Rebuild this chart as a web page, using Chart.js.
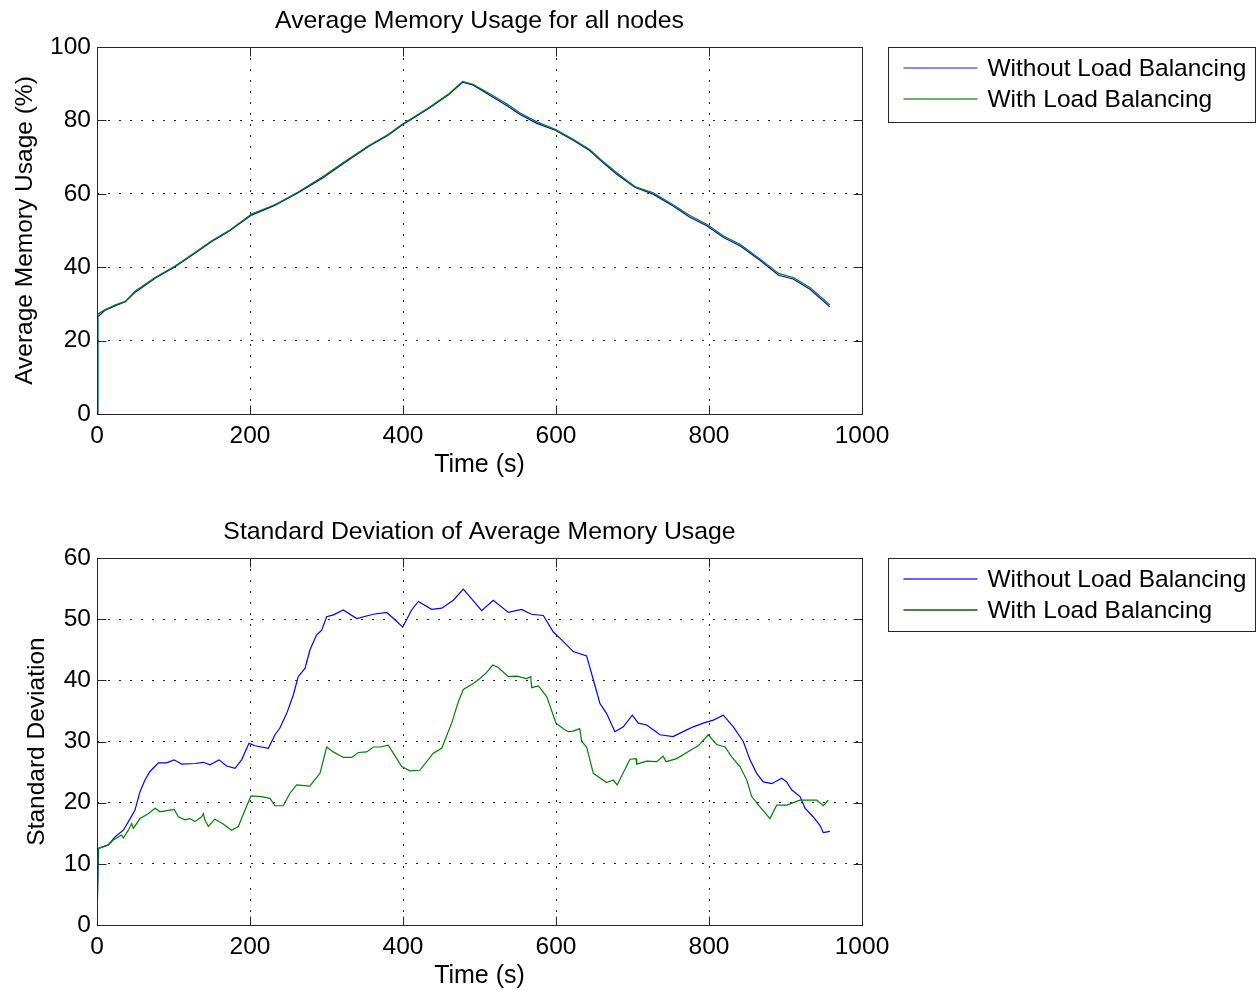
<!DOCTYPE html>
<html><head><meta charset="utf-8">
<script src="https://cdn.jsdelivr.net/npm/chart.js@4.4.0/dist/chart.umd.min.js"></script>
<style>
html,body{margin:0;padding:0;background:#fff;}
#wrap{position:relative;width:1257px;height:991px;overflow:hidden;}
.c{position:absolute;left:0;width:1257px;height:480px;}
</style></head><body>
<div id="wrap">
<div class="c" style="top:0"><canvas id="c1"></canvas></div>
<div class="c" style="top:511px"><canvas id="c2"></canvas></div>
</div>
<script>
// ---------- data ----------
const xTicks = [0, 200, 400, 600, 800, 1000];
const memTicks = [0, 20, 40, 60, 80, 100];
const sdTicks = [0, 10, 20, 30, 40, 50, 60];
const seriesLabels = ['Without Load Balancing', 'With Load Balancing'];

const memTime = [0,1,10,25,37,50,76,102,128,150,172,202,233,263,294,324,355,381,398,433,459,478,492,514,536,553,575,599,623,644,658,679,703,727,753,775,797,819,841,867,891,910,932,958];
const memWithout = [0,26.5,28.2,29.6,30.6,33.2,37.0,40.1,43.8,47.0,49.7,54.2,56.9,60.3,64.2,68.5,72.9,76.0,78.6,83.2,86.9,90.4,89.6,86.8,84.0,81.6,79.2,77.3,74.5,71.8,69.1,65.4,61.8,59.9,56.7,53.6,51.3,48.1,45.8,41.8,37.8,36.8,34.0,29.2];
const memWith = [0,27.2,28.4,29.8,30.7,33.5,37.2,40.3,44.0,47.2,49.9,54.5,57.1,60.5,64.5,68.8,73.1,76.2,78.8,83.4,87.1,90.6,89.8,87.2,84.5,82.0,79.6,77.6,74.8,72.1,69.4,65.8,62.0,60.3,57.0,54.1,51.7,48.5,46.2,42.2,38.3,37.2,34.5,29.7];

const sdTimeWithout = [0,1.7,14.8,23.5,34.4,41,49.7,56.2,62.7,69.3,80.2,91,100.6,110.7,128,139,147.7,159.5,169.5,180.4,189,198.7,206.5,224,232.7,239,248,256.6,263,272,278.4,287,293.7,300.2,309,322,339.5,361,378.7,389.5,399.6,411.3,420,437.5,450.6,465.8,478.8,489.8,502.8,518,537.7,555,568,583.4,596.5,605,622.6,640,648.8,657.5,666,677,688,699.7,707.6,718.6,736,753,770.8,779.5,792.5,805.6,818.7,831.8,844.8,853.6,862.3,871,882,895,901.5,908,919,925.5,936,945,949.4,958];
const sdWithout = [0,12.5,13.1,14.4,15.5,16.9,18.8,21.8,23.7,25.1,26.5,26.5,27.0,26.3,26.4,26.6,26.2,27.0,26.0,25.6,27.0,29.7,29.3,28.9,31.1,32.2,34.6,37.6,40.6,42.0,45.0,47.4,48.2,50.4,50.7,51.5,50.1,50.8,51.1,49.9,48.7,51.5,52.9,51.6,51.8,53.1,54.9,53.3,51.4,53.1,51.1,51.6,50.8,50.6,47.9,46.9,44.7,44.0,40.1,36.2,34.6,31.6,32.4,34.3,33.0,32.7,31.1,30.8,31.9,32.4,33.0,33.5,34.3,32.4,30.0,27.0,24.8,23.4,23.1,24.0,23.4,22.1,21.0,19.1,17.7,16.3,15.1,15.3];

const sdTimeWith = [0,1.7,14.8,21.3,32.2,34.4,41,45.3,47.5,56.2,67,75.8,82.4,91,101,106.3,115,121.6,128,136.9,139,141,145.5,154,165,176,184.7,193.5,201.3,215.2,226,232.7,243.5,252,261,278,291.5,300.2,309,322,333,341.6,352.5,361.2,370,380.8,387.3,398.3,409,422,439.6,450.6,463.6,472.3,478.8,491.9,500.6,509.4,517.3,524.6,537.7,548.6,561.7,567,568.2,577,588,600,609.5,616,622.6,631,633.6,640,648.8,666,674.9,680,696.7,704.6,705.5,718.6,731.6,740,744,757.8,777.4,786,799,810,821,829.7,840.5,849.3,855.8,866.7,879.7,888.5,901.5,919,940.8,949.4,956];
const sdWith = [0,12.5,13.1,13.9,14.7,14.2,15.5,16.6,15.8,17.4,18.2,19.1,18.5,18.7,18.9,17.7,17.2,17.4,16.9,17.7,18.2,17.2,16.1,17.3,16.5,15.5,16.1,18.8,21.1,21.0,20.7,19.5,19.5,21.5,22.9,22.7,24.8,29.1,28.3,27.4,27.4,28.2,28.3,29.1,29.1,29.4,28.1,25.9,25.2,25.3,28.1,28.9,33.0,36.5,38.5,39.5,40.3,41.3,42.5,42.1,40.6,40.7,40.3,40.6,38.8,39.1,37.3,33.0,32.1,31.6,31.7,32.1,30.0,29.1,24.8,23.3,23.7,22.9,27.1,27.2,26.3,26.8,26.7,27.6,26.7,27.2,28.7,29.3,31.1,29.5,29.1,27.5,25.9,23.7,21.0,19.3,17.4,19.6,19.6,20.4,20.4,19.5,20.4];

// ---------- helpers ----------
const FONT = "'Liberation Sans', Arial, Helvetica, sans-serif";
const BLUE = '#0000ff';
const GREEN = '#008000';
const GREEN2 = '#006400';
function pts(xs, ys){ return xs.map((x,i)=>({x:x, y:ys[i]})); }

Chart.defaults.font.family = FONT;
Chart.defaults.color = '#000';

const frame = {
  id:'frame',
  afterDraw(chart, args, opts){
    const {ctx, chartArea:a, scales} = chart;
    ctx.save();
    ctx.strokeStyle = '#262626';
    ctx.lineWidth = 1;
    const l = Math.round(a.left)+0.5, r = Math.round(a.right)+0.5, t = Math.round(a.top)+0.5, b = Math.round(a.bottom)+0.5;
    ctx.strokeRect(l, t, r-l, b-t);
    const L = 9;
    ctx.beginPath();
    scales.x.ticks.forEach(tk=>{
      const px = Math.round(scales.x.getPixelForValue(tk.value))+0.5;
      ctx.moveTo(px,b); ctx.lineTo(px,b-L);
      ctx.moveTo(px,t); ctx.lineTo(px,t+L);
    });
    scales.y.ticks.forEach(tk=>{
      const py = Math.round(scales.y.getPixelForValue(tk.value))+0.5;
      ctx.moveTo(l,py); ctx.lineTo(l+L,py);
      ctx.moveTo(r,py); ctx.lineTo(r-L,py);
    });
    ctx.stroke();
    // title
    ctx.fillStyle = '#000';
    ctx.font = '24.8px ' + FONT;
    ctx.textAlign = 'center';
    ctx.textBaseline = 'middle';
    ctx.fillText(opts.title, (a.left+a.right)/2, a.top-26);
    // legend
    ctx.font = '24.5px ' + FONT;
    const lx = Math.round(a.right)+26.5, ly = Math.round(a.top)+0.5;
    ctx.strokeStyle = '#262626';
    ctx.strokeRect(lx, ly, 367, opts.legendH);
    opts.legendColors.forEach((col,i)=>{
      const y = Math.round(a.top) + 21 + i*31;
      ctx.strokeStyle = col;
      ctx.lineWidth = 1.3;
      ctx.beginPath(); ctx.moveTo(lx+15, y); ctx.lineTo(lx+89, y); ctx.stroke();
      ctx.textAlign = 'left';
      ctx.fillStyle = '#000';
      ctx.fillText(chart.data.datasets[i].label, lx+99, y+1.5);
    });
    ctx.restore();
  }
};

function makeChart(id, cfg){
  return new Chart(document.getElementById(id), {
    type:'line',
    data:{ datasets:[
      {label:seriesLabels[0], data:cfg.d1, borderColor:BLUE, borderWidth:1.2, pointRadius:0, fill:false, tension:0, order:1},
      {label:seriesLabels[1], data:cfg.d2, borderColor:GREEN, borderWidth:1.2, pointRadius:0, fill:false, tension:0, order:0}
    ]},
    options:{
      responsive:true, maintainAspectRatio:false, animation:false,
      layout:{padding:{left:cfg.padLeft, right:395, top:47, bottom:0}},
      plugins:{legend:{display:false}, tooltip:{enabled:false}, title:{display:false},
        frame:{title:cfg.title, legendH:cfg.legendH, legendColors:cfg.legendColors}},
      scales:{
        x:{type:'linear', min:0, max:1000,
          afterBuildTicks(s){ s.ticks = xTicks.map(v=>({value:v})); },
          ticks:{padding:8, color:'#000', font:{size:24.5, family:FONT}, maxRotation:0, autoSkip:false,
            callback:(v)=>String(v)},
          grid:{color:'rgba(0,0,0,0.85)', lineWidth:1, drawTicks:false},
          border:{display:false, dash:[2,9]},
          title:{display:true, text:'Time (s)', color:'#000', font:{size:25, family:FONT}, padding:{top:0,bottom:0}},
          afterFit(s){ s.height = 66; }
        },
        y:{type:'linear', min:0, max:cfg.ymax,
          afterBuildTicks(s){ s.ticks = cfg.yTicks.map(v=>({value:v})); },
          ticks:{padding:6, color:'#000', font:{size:24.5, family:FONT}, autoSkip:false, callback:(v)=>String(v)},
          grid:{color:'rgba(0,0,0,0.85)', lineWidth:1, drawTicks:false},
          border:{display:false, dash:[2,9]},
          title:{display:true, text:cfg.ytitle, color:'#000', font:{size:24.5, family:FONT}, padding:{top:0.5,bottom:0}},
          afterFit(s){ s.width = 97 - cfg.padLeft; }
        }
      }
    },
    plugins:[frame]
  });
}

makeChart('c1', {d1:pts(memTime,memWithout), d2:pts(memTime,memWith), padLeft:10, ymax:100, yTicks:memTicks,
  ytitle:'Average Memory Usage (%)', title:'Average Memory Usage for all nodes', legendH:75, legendColors:['#6060ff', '#3a9a3a']});
makeChart('c2', {d1:pts(sdTimeWithout,sdWithout), d2:pts(sdTimeWith,sdWith), padLeft:22, ymax:60, yTicks:sdTicks,
  ytitle:'Standard Deviation', title:'Standard Deviation of Average Memory Usage', legendH:73, legendColors:['#3030ff', GREEN2]});
</script>
</body></html>
